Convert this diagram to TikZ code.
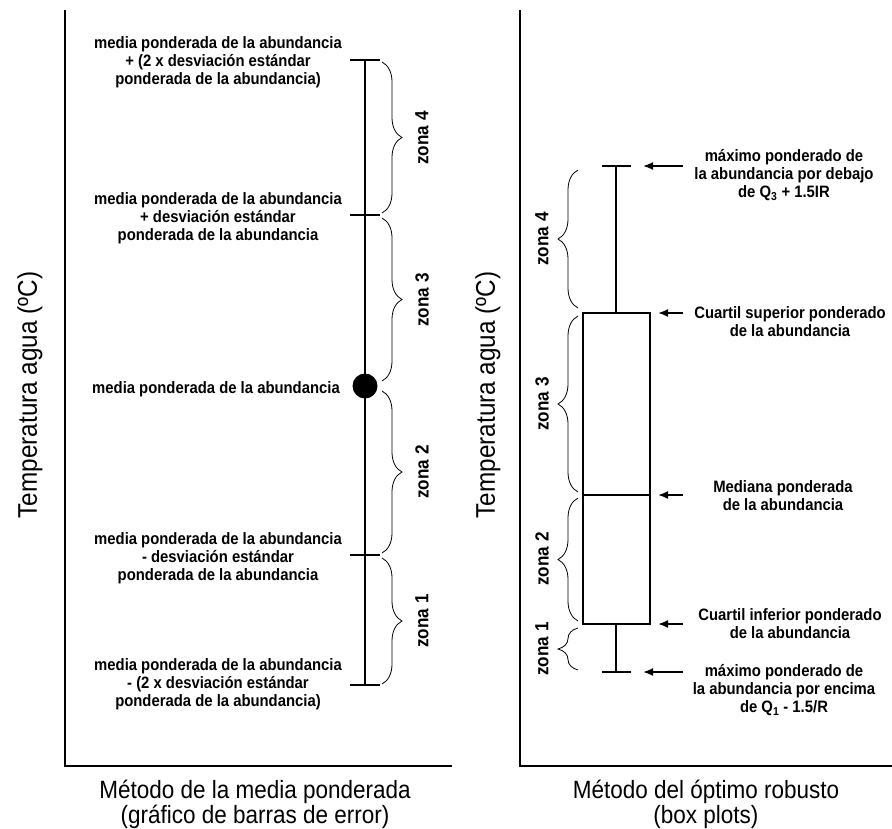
\documentclass[tikz,border=0pt]{standalone}
\usepackage{fontspec}
\setmainfont{Liberation Sans}[FakeStretch=0.9]
\usetikzlibrary{decorations.pathreplacing, arrows.meta}

\begin{document}
\begin{tikzpicture}[x=1pt, y=-1pt,
        lbl/.style={font=\bfseries\fontsize{16.5}{18}\selectfont, align=center, inner sep=0pt},
        zone/.style={font=\bfseries\fontsize{19}{20}\selectfont, rotate=90, inner sep=0pt},
        ytitle/.style={font=\fontsize{27}{30}\selectfont, rotate=90, inner sep=0pt},
        meth/.style={font=\fontsize{25}{25}\selectfont, align=center, inner sep=0pt},
        axis/.style={line width=2.5pt},
        bar/.style={line width=2.5pt},
        brc/.style={decorate, decoration={brace, amplitude=20pt}, line width=0.8pt},
        pointer/.style={-{Latex[length=10pt, width=8pt]}, line width=1.8pt}]

        \useasboundingbox (0,0) rectangle (892,828);

        % Axes
        \draw[axis] (65,10) -- (65,766) -- (452,766);
        \draw[axis] (520,10) -- (520,766) -- (892,766);
        \node[ytitle] (yl) at (30,395) {Temperatura agua (ºC)};
        \node[ytitle] (yr) at (488,395) {Temperatura agua (ºC)};

        % Error bar
        \coordinate (up2) at (365,60);
        \coordinate (up1) at (365,215);
        \coordinate (mean) at (365,386);
        \coordinate (lo1) at (365,555);
        \coordinate (lo2) at (365,685);
        \draw[bar] (up2) -- (lo2);
        \foreach \c in {up2, up1, lo1, lo2}
            \draw[bar] ([xshift=-15pt]\c) -- ([xshift=15pt]\c);
        \node[circle, fill, minimum size=25pt, inner sep=0pt] (dot) at (mean) {};

        % Zones of the error bar
        \draw[brc] (382,62) -- (382,213);
        \draw[brc] (382,218) -- (382,381);
        \draw[brc] (382,391) -- (382,553);
        \draw[brc] (382,558) -- (382,684);
        \node[zone] (z4l) at (422,138) {zona 4};
        \node[zone] (z3l) at (422,300) {zona 3};
        \node[zone] (z2l) at (422,472) {zona 2};
        \node[zone] (z1l) at (422,621) {zona 1};

        % Labels of the error bar
        \node[lbl] (tup2) at (218,62) {media ponderada de la abundancia\\+ (2 x desviación estándar\\ponderada de la abundancia)};
        \node[lbl] (tup1) at (218,218) {media ponderada de la abundancia\\+ desviación estándar\\ponderada de la abundancia};
        \node[lbl] (tmean) at (216,389) {media ponderada de la abundancia};
        \node[lbl] (tlo1) at (218,558) {media ponderada de la abundancia\\- desviación estándar\\ponderada de la abundancia};
        \node[lbl] (tlo2) at (218,684) {media ponderada de la abundancia\\- (2 x desviación estándar\\ponderada de la abundancia)};

        % Box plot
        \coordinate (wtop) at (616,166);
        \coordinate (q3) at (616,313);
        \coordinate (med) at (616,495);
        \coordinate (q1) at (616,624);
        \coordinate (wbot) at (616,672);
        \draw[bar] ([xshift=-33pt]q3) rectangle ([xshift=34pt]q1);
        \draw[bar] ([xshift=-33pt]med) -- ([xshift=34pt]med);
        \draw[bar] (wtop) -- (q3);
        \draw[bar] (q1) -- (wbot);
        \foreach \c in {wtop, wbot}
            \draw[bar] ([xshift=-14pt]\c) -- ([xshift=15pt]\c);

        % Zones of the box plot
        \draw[brc] (578,308) -- (578,170);
        \draw[brc] (578,492) -- (578,316);
        \draw[brc] (578,621) -- (578,498);
        \draw[brc] (578,670) -- (578,628);
        \node[zone] (z4r) at (542,239) {zona 4};
        \node[zone] (z3r) at (542,404) {zona 3};
        \node[zone] (z2r) at (542,559) {zona 2};
        \node[zone] (z1r) at (542,649) {zona 1};

        % Labels of the box plot
        \node[lbl] (twtop) at (784,175) {máximo ponderado de\\la abundancia por debajo\\de Q\textsubscript{3} + 1.5IR};
        \node[lbl] (tq3) at (790,322) {Cuartil superior ponderado\\de la abundancia};
        \node[lbl] (tmed) at (783,496) {Mediana ponderada\\de la abundancia};
        \node[lbl] (tq1) at (790,624) {Cuartil inferior ponderado\\de la abundancia};
        \node[lbl] (twbot) at (784,690) {máximo ponderado de\\la abundancia por encima\\de Q\textsubscript{1} - 1.5/R};

        % Pointers
        \coordinate (pwtop) at (683,166);
        \coordinate (pq3) at (683,313);
        \coordinate (pmed) at (683,495);
        \coordinate (pq1) at (683,624);
        \coordinate (pwbot) at (683,672);
        \draw[pointer] (pwtop) -- ([xshift=27pt]wtop);
        \draw[pointer] (pq3) -- ([xshift=42pt]q3);
        \draw[pointer] (pmed) -- ([xshift=42pt]med);
        \draw[pointer] (pq1) -- ([xshift=42pt]q1);
        \draw[pointer] (pwbot) -- ([xshift=27pt]wbot);

        % Titles
        \node[meth] (ml) at (255,804) {Método de la media ponderada\\(gráfico de barras de error)};
        \node[meth] (mr) at (706,804) {Método del óptimo robusto\\(box plots)};
\end{tikzpicture}
\end{document}
